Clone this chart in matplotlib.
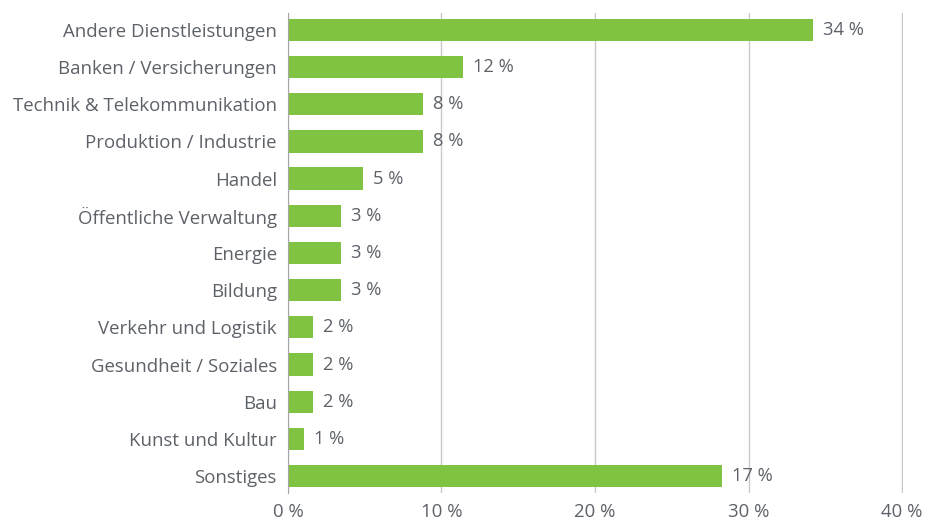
import matplotlib.pyplot as plt
import numpy as np

plt.rcParams['font.family'] = ['Open Sans', 'DejaVu Sans']

# data (bar lengths in %, labels as printed)
categories = ['Andere Dienstleistungen', 'Banken / Versicherungen', 'Technik & Telekommunikation',
              'Produktion / Industrie', 'Handel', 'Öffentliche Verwaltung', 'Energie', 'Bildung',
              'Verkehr und Logistik', 'Gesundheit / Soziales', 'Bau', 'Kunst und Kultur', 'Sonstiges']
bar_values = [34.2, 11.4, 8.8, 8.8, 4.9, 3.45, 3.45, 3.45, 1.65, 1.65, 1.65, 1.05, 28.3]
value_labels = ['34 %', '12 %', '8 %', '8 %', '5 %', '3 %', '3 %', '3 %', '2 %', '2 %', '2 %', '1 %', '17 %']
x_ticks = [0, 10, 20, 30, 40]
x_ticklabels = ['0 %', '10 %', '20 %', '30 %', '40 %']

green = '#80c241'
text_col = '#5d6168'

fig = plt.figure(figsize=(9.46, 5.21), dpi=100)
ax = fig.add_axes([0.3044, 0.054, 0.650, 0.921])

yy = np.arange(len(categories))
bars = ax.barh(yy, bar_values, height=0.6, color=green, zorder=3)

for b, lab in zip(bars, value_labels):
    ax.annotate(lab, (b.get_width(), b.get_y() + b.get_height() / 2),
                xytext=(7, 0), textcoords='offset points',
                va='center', ha='left', fontsize=13.2, color=text_col)

ax.set_xlim(0, 40.05)
ax.set_ylim(len(categories) - 0.55, -0.45)
ax.set_yticks(yy)
ax.set_yticklabels(categories)
ax.set_xticks(x_ticks)
ax.set_xticklabels(x_ticklabels)
ax.tick_params(axis='both', length=0, labelsize=13.4, labelcolor=text_col)
ax.tick_params(axis='y', pad=8)
ax.tick_params(axis='x', pad=7)

ax.grid(axis='x', color='#c8c8c8', linewidth=1, zorder=0)
for s in ['top', 'right', 'bottom']:
    ax.spines[s].set_visible(False)
ax.spines['left'].set_color('#a6a6a6')
ax.spines['left'].set_zorder(4)

fig.savefig('out.png', dpi=100)
